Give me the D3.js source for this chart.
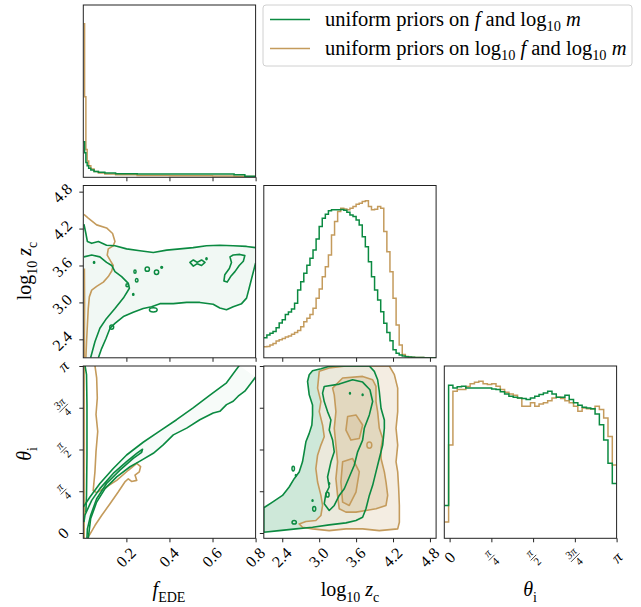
<!DOCTYPE html>
<html>
<head>
<meta charset="utf-8">
<script src="https://cdn.jsdelivr.net/npm/d3@7"></script>
<style>
  body { margin: 0; background: #fff; }
  svg { display: block; }
</style>
</head>
<body>
<svg id="corner" width="641" height="607"></svg>
<script>
// ---- data ----
var fTicks = [0.2, 0.4, 0.6, 0.8];
var zTicks = [2.4, 3.0, 3.6, 4.2, 4.8];
var thTicks = [0, Math.PI / 4, Math.PI / 2, 3 * Math.PI / 4, Math.PI];
var thTickNum = ["0", "π", "π", "3π", "π"];
var thTickDen = ["", "4", "2", "4", ""];

// 1D histogram of f_EDE (bin edges + heights as fraction of panel)
var fEdges = [0, 0.006, 0.012, 0.018, 0.025, 0.035, 0.05, 0.07, 0.1, 0.15, 0.25, 0.4, 0.6, 0.7, 0.75, 0.8];
var fHistGreen = [0.206, 0.143, 0.086, 0.067, 0.053, 0.042, 0.034, 0.029, 0.025, 0.021, 0.019, 0.019, 0.019, 0.015, 0.006];
var fHistTan = [0.891, 0.467, 0.162, 0.095, 0.067, 0.048, 0.034, 0.025, 0.019, 0.015, 0.011, 0.0095, 0.008, 0.006, 0.005];

// 1D histogram of log10 z_c, bins of 0.05 from 2.1
var zHistGreen = [0.116, 0.132, 0.143, 0.153, 0.174, 0.202, 0.221, 0.252, 0.266, 0.283, 0.316, 0.393, 0.442, 0.490, 0.537, 0.578, 0.626, 0.690, 0.762, 0.810, 0.833, 0.853, 0.859, 0.859, 0.859, 0.860, 0.857, 0.845, 0.829, 0.820, 0.800, 0.771, 0.703, 0.645, 0.558, 0.471, 0.393, 0.335, 0.267, 0.200, 0.147, 0.099, 0.047, 0.027, 0.016, 0.010, 0.006, 0.004, 0.003, 0.002, 0.002, 0.002, 0.001, 0.001, 0.001, 0.001];
var zHistTan = [0.064, 0.066, 0.074, 0.083, 0.097, 0.105, 0.112, 0.120, 0.126, 0.136, 0.147, 0.159, 0.180, 0.209, 0.229, 0.252, 0.287, 0.345, 0.399, 0.471, 0.529, 0.597, 0.713, 0.791, 0.849, 0.868, 0.864, 0.859, 0.868, 0.878, 0.891, 0.897, 0.907, 0.911, 0.878, 0.859, 0.862, 0.878, 0.868, 0.733, 0.616, 0.500, 0.345, 0.190, 0.074, 0.019, 0.008, 0.004, 0.003, 0.002, 0.002, 0.002, 0.001, 0.001, 0.001, 0.001];

// 1D histogram of theta_i, 40 bins from -0.1 to pi
var thHistGreen = [0.191, 0.889, 0.873, 0.879, 0.883, 0.873, 0.873, 0.873, 0.873, 0.873, 0.873, 0.867, 0.864, 0.850, 0.838, 0.825, 0.819, 0.815, 0.811, 0.805, 0.815, 0.825, 0.834, 0.844, 0.854, 0.838, 0.819, 0.819, 0.830, 0.805, 0.786, 0.772, 0.760, 0.756, 0.752, 0.721, 0.659, 0.571, 0.435, 0.318];
var thHistTan = [0.094, 0.542, 0.854, 0.864, 0.864, 0.881, 0.897, 0.906, 0.912, 0.897, 0.893, 0.897, 0.883, 0.864, 0.848, 0.838, 0.830, 0.815, 0.766, 0.766, 0.786, 0.766, 0.780, 0.786, 0.799, 0.815, 0.819, 0.811, 0.799, 0.786, 0.766, 0.737, 0.756, 0.752, 0.750, 0.766, 0.747, 0.698, 0.591, 0.425];

// contours, f_EDE vs log10 z_c
var fzGreenOuterTop = [[0.003,4.27],[0.012,4.12],[0.019,3.99],[0.039,3.96],[0.070,3.99],[0.108,3.93],[0.147,3.92],[0.201,3.87],[0.263,3.84],[0.325,3.81],[0.387,3.85],[0.449,3.87],[0.510,3.89],[0.572,3.92],[0.634,3.93],[0.696,3.92],[0.758,3.91],[0.80,3.89]];
var fzGreenOuterLow = [[0.80,3.64],[0.786,3.45],[0.770,3.23],[0.758,3.07],[0.735,2.98],[0.696,2.93],[0.665,2.88],[0.634,2.91],[0.603,2.97],[0.541,3.00],[0.480,3.00],[0.418,2.98],[0.356,2.98],[0.317,2.93],[0.278,2.90],[0.232,2.84],[0.186,2.77],[0.147,2.66],[0.124,2.58],[0.105,2.41],[0.085,2.25],[0.070,2.10]];
var fzGreenInner = [[0.003,3.74],[0.039,3.77],[0.077,3.74],[0.108,3.65],[0.132,3.60],[0.147,3.50],[0.178,3.42],[0.209,3.31],[0.214,3.23],[0.186,3.07],[0.147,2.90],[0.108,2.74],[0.077,2.58],[0.054,2.36],[0.034,2.10]];
var fzGreenIsland = [[0.681,3.74],[0.696,3.77],[0.727,3.78],[0.750,3.76],[0.743,3.67],[0.724,3.60],[0.704,3.50],[0.684,3.42],[0.668,3.33],[0.653,3.35],[0.657,3.45],[0.678,3.55],[0.688,3.65]];
var fzGreenEight = [[0.495,3.65],[0.511,3.69],[0.529,3.65],[0.549,3.69],[0.565,3.65],[0.549,3.60],[0.529,3.63],[0.511,3.59]];
var fzGreenBlobs = [[0.297,3.54,0.010,0.035],[0.340,3.49,0.010,0.035],[0.364,3.57,0.004,0.015],[0.572,3.71,0.003,0.015],[0.204,3.28,0.006,0.025],[0.240,3.50,0.005,0.025],[0.248,3.36,0.006,0.03],[0.232,3.13,0.003,0.015],[0.325,2.88,0.018,0.035],[0.132,2.60,0.009,0.035],[0.050,3.65,0.003,0.015]];
var fzTanLine = [[0.003,4.43],[0.023,4.37],[0.062,4.26],[0.108,4.21],[0.136,4.12],[0.147,3.99],[0.139,3.92],[0.116,3.87],[0.111,3.77],[0.127,3.67],[0.139,3.60],[0.132,3.51],[0.116,3.42],[0.093,3.33],[0.062,3.26],[0.039,3.20],[0.028,3.09],[0.023,2.90],[0.019,2.63],[0.015,2.36],[0.012,2.10]];
var fzTanEdge = [[0.005,3.55],[0.006,3.0],[0.005,2.5],[0.005,2.1]];

// contours, f_EDE vs theta_i
var fthGreenUpper = [[0,0.488],[0.031,0.677],[0.077,0.930],[0.139,1.214],[0.201,1.467],[0.278,1.707],[0.356,1.922],[0.433,2.131],[0.510,2.352],[0.588,2.592],[0.665,2.826],[0.724,3.15]];
var fthGreenLower = [[0.80,2.933],[0.774,2.794],[0.750,2.668],[0.719,2.573],[0.696,2.478],[0.665,2.415],[0.634,2.289],[0.603,2.257],[0.541,2.131],[0.480,1.973],[0.418,1.846],[0.371,1.657],[0.325,1.499],[0.263,1.353],[0.217,1.246],[0.155,1.056],[0.101,0.835],[0.062,0.582],[0.034,0.266],[0.023,-0.1]];
var fthGreenInner = [[0.003,0.203],[0.008,0.342],[0.039,0.614],[0.077,0.835],[0.139,1.120],[0.201,1.341],[0.248,1.499],[0.275,1.575],[0.271,1.518],[0.232,1.404],[0.170,1.183],[0.108,0.930],[0.062,0.645],[0.034,0.330],[0.019,0.077],[0.017,-0.1]];
var fthGreenEdge = [[0.008,3.15],[0.015,2.98],[0.017,2.41],[0.017,1.47],[0.015,0.71],[0.012,0.39]];
var fthTanLine = [[0.054,3.15],[0.062,2.92],[0.065,2.54],[0.059,2.23],[0.067,1.91],[0.059,1.53],[0.054,1.15],[0.046,0.80],[0.062,0.76],[0.108,0.87],[0.155,0.99],[0.209,1.18],[0.248,1.31],[0.266,1.25],[0.260,1.15],[0.240,1.09],[0.248,0.99],[0.224,0.97],[0.209,1.02],[0.193,0.96],[0.162,0.77],[0.124,0.55],[0.085,0.33],[0.054,0.14],[0.031,-0.02],[0.019,-0.1]];
var fthTanEdge = [[0.004,3.15],[0.005,1.5],[0.004,-0.1]];

// contours, log10 z_c vs theta_i
var zthGreenOuter = [[2.100,0.474],[2.241,0.581],[2.404,0.707],[2.512,0.865],[2.594,1.022],[2.675,1.149],[2.729,1.338],[2.757,1.527],[2.784,1.716],[2.838,1.874],[2.881,2.032],[2.892,2.221],[2.892,2.410],[2.838,2.599],[2.811,2.851],[2.838,2.978],[2.892,3.053],[3.028,3.091],[3.163,3.135],[3.272,3.142],[3.815,3.142],[3.896,3.041],[3.950,2.883],[3.977,2.662],[4.005,2.347],[4.059,2.126],[4.059,1.969],[4.032,1.653],[3.977,1.401],[3.923,1.149],[3.869,0.896],[3.815,0.707],[3.760,0.455],[3.706,0.297],[3.598,0.234],[3.435,0.190],[3.163,0.152],[2.892,0.108],[2.621,0.077],[2.350,0.045],[2.100,0.014]];
var zthGreenInner = [[3.082,2.757],[3.326,2.801],[3.543,2.883],[3.706,2.839],[3.825,2.694],[3.869,2.473],[3.815,2.221],[3.733,1.969],[3.706,1.748],[3.625,1.527],[3.570,1.275],[3.489,1.054],[3.408,0.833],[3.326,0.707],[3.245,0.518],[3.163,0.423],[3.082,0.549],[3.109,0.739],[3.163,0.865],[3.136,1.054],[3.191,1.338],[3.245,1.527],[3.218,1.748],[3.163,1.937],[3.191,2.126],[3.136,2.284],[3.082,2.473],[3.055,2.631]];
var zthGreenBlobs = [[2.594,0.202,0.035,0.035],[2.892,0.612,0.008,0.015],[2.919,0.455,0.025,0.045],[3.136,0.72,0.025,0.045],[3.163,0.93,0.008,0.015],[2.578,1.212,0.02,0.045],[2.621,1.086,0.008,0.015],[3.500,2.63,0.008,0.015],[3.706,2.60,0.008,0.015]];
var zthTanOuter = [[2.974,2.725],[3.001,3.041],[3.163,3.104],[3.435,3.142],[3.869,3.142],[4.140,3.142],[4.222,2.978],[4.276,2.725],[4.276,2.284],[4.249,1.969],[4.276,1.653],[4.249,1.338],[4.276,1.149],[4.292,0.833],[4.303,0.518],[4.303,0.203],[4.276,0.077],[3.977,0.045],[3.706,0.077],[3.435,0.077],[3.163,0.045],[2.892,0.077],[2.729,0.108],[2.675,0.171],[2.784,0.215],[2.946,0.234],[3.028,0.329],[3.055,0.518],[3.028,0.707],[2.974,0.959],[2.946,1.212],[2.974,1.464],[3.028,1.653],[3.082,1.811],[3.055,2.032],[3.001,2.284],[3.028,2.473],[3.001,2.599]];
var zthTanInner = [[3.218,2.725],[3.381,2.915],[3.706,2.946],[3.869,2.883],[3.923,2.757],[3.923,2.473],[3.950,2.284],[3.977,1.969],[4.032,1.779],[4.005,1.590],[4.005,1.401],[4.059,1.149],[4.086,0.959],[4.113,0.707],[4.086,0.518],[3.923,0.455],[3.760,0.423],[3.598,0.392],[3.435,0.392],[3.326,0.455],[3.299,0.707],[3.272,1.022],[3.299,1.338],[3.272,1.653],[3.245,1.969],[3.272,2.284],[3.245,2.599]];
var zthTanCore1 = [[3.462,2.190],[3.598,2.221],[3.706,2.032],[3.652,1.779],[3.516,1.748],[3.435,1.937]];
var zthTanCore2 = [[3.381,1.338],[3.543,1.401],[3.652,1.149],[3.598,0.770],[3.489,0.518],[3.381,0.581],[3.353,0.959]];
var zthTanBlobs = [[3.815,1.653,0.04,0.06]];

// ---- layout ----
var green = "#0b8a41", tan = "#c49b5c";
var serif = "'Liberation Serif', 'DejaVu Serif', serif";
var S = 172.3;
var colX = [83.3, 263.8, 444.3];
var rowY = [5, 185.5, 366];

var svg = d3.select("#corner");

var fX = d3.scaleLinear().domain([0, 0.8]).range([0, S]);
var zX = d3.scaleLinear().domain([2.1, 4.9]).range([0, S]);
var zY = d3.scaleLinear().domain([2.1, 4.9]).range([S, 0]);
var thX = d3.scaleLinear().domain([-0.1, Math.PI]).range([0, S]);
var thY = d3.scaleLinear().domain([-0.1, Math.PI]).range([S, 0]);
var hY = d3.scaleLinear().domain([0, 1]).range([S, 0]);

function panel(col, row) {
  var g = svg.append("g").attr("transform", "translate(" + colX[col] + "," + rowY[row] + ")");
  var id = "clip" + col + row;
  g.append("clipPath").attr("id", id).append("rect").attr("width", S).attr("height", S);
  var inner = g.append("g").attr("clip-path", "url(#" + id + ")");
  return { g: g, inner: inner };
}

function frame(p) {
  p.g.append("rect").attr("width", S).attr("height", S)
    .attr("fill", "none").attr("stroke", "#222").attr("stroke-width", 1);
}

function stroke(g, pts, sx, sy, color, closed) {
  var line = d3.line().x(function (d) { return sx(d[0]); }).y(function (d) { return sy(d[1]); });
  g.append("path").attr("d", line(pts) + (closed ? "Z" : ""))
    .attr("fill", "none").attr("stroke", color).attr("stroke-width", 1.6)
    .attr("stroke-linejoin", "round");
}

function fill(g, pts, sx, sy, color, op) {
  var line = d3.line().x(function (d) { return sx(d[0]); }).y(function (d) { return sy(d[1]); });
  g.append("path").attr("d", line(pts) + "Z").attr("fill", color).attr("fill-opacity", op).attr("stroke", "none");
}

function blobs(g, list, sx, sy, color) {
  list.forEach(function (b) {
    g.append("ellipse")
      .attr("cx", sx(b[0])).attr("cy", sy(b[1]))
      .attr("rx", Math.abs(sx(b[0] + b[2]) - sx(b[0])))
      .attr("ry", Math.abs(sy(b[1] + b[3]) - sy(b[1])))
      .attr("fill", "none").attr("stroke", color).attr("stroke-width", 1.5);
  });
}

function hist(g, edges, vals, sx, color) {
  var pts = vals.map(function (v, i) { return [edges[i], v]; });
  pts.push([edges[vals.length], vals[vals.length - 1]]);
  var line = d3.line().curve(d3.curveStepAfter)
    .x(function (d) { return sx(d[0]); }).y(function (d) { return hY(d[1]); });
  g.append("path").attr("d", line(pts)).attr("fill", "none")
    .attr("stroke", color).attr("stroke-width", 1.5);
}

function uniformEdges(start, stop, n) {
  return d3.range(n + 1).map(function (i) { return start + (stop - start) * i / n; });
}

function xAxis(p, scale, ticks, withLabels) {
  var ax = p.g.append("g").attr("transform", "translate(0," + S + ")")
    .call(d3.axisBottom(scale).tickValues(ticks).tickSize(4).tickFormat(withLabels ? d3.format(".1f") : ""));
  ax.select(".domain").remove();
  ax.selectAll("line").attr("stroke", "#222");
  ax.attr("font-family", serif).attr("font-size", 16);
  if (withLabels) {
    ax.selectAll("text").attr("y", 0).attr("dy", null).attr("fill", "#000")
      .attr("text-anchor", "middle").attr("dominant-baseline", "central")
      .attr("transform", "translate(-1,19) rotate(-45)");
  }
  return ax;
}

function yAxis(p, scale, ticks, withLabels) {
  var ax = p.g.append("g")
    .call(d3.axisLeft(scale).tickValues(ticks).tickSize(4).tickFormat(withLabels ? d3.format(".1f") : ""));
  ax.select(".domain").remove();
  ax.selectAll("line").attr("stroke", "#222");
  ax.attr("font-family", serif).attr("font-size", 16);
  if (withLabels) {
    ax.selectAll("text").attr("x", 0).attr("dy", null).attr("fill", "#000")
      .attr("text-anchor", "middle").attr("dominant-baseline", "central")
      .attr("transform", "translate(-21,1) rotate(-45)");
  }
  return ax;
}

// pi-fraction tick labels
function thetaLabels(p, horizontal) {
  thTicks.forEach(function (t, i) {
    var tx = horizontal ? "translate(" + thX(t) + "," + (S + 19) + ")" : "translate(-20," + thY(t) + ")";
    var lg = p.g.append("g").attr("transform", tx + " rotate(-45)").attr("font-family", serif);
    var num = thTickNum[i], den = thTickDen[i];
    if (den === "") {
      lg.append("text").text(num).attr("text-anchor", "middle").attr("dominant-baseline", "central")
        .attr("font-size", 16).attr("fill", "#000").attr("font-style", num === "π" ? "italic" : null);
    } else {
      var hw = num.length > 1 ? 6 : 4;
      lg.append("text").text(num).attr("text-anchor", "middle").attr("y", -2)
        .attr("font-size", 11).attr("fill", "#000").attr("font-style", "italic");
      lg.append("line").attr("x1", -hw).attr("x2", hw).attr("y1", 0.5).attr("y2", 0.5)
        .attr("stroke", "#000").attr("stroke-width", 0.7);
      lg.append("text").text(den).attr("text-anchor", "middle").attr("y", 9.5)
        .attr("font-size", 11).attr("fill", "#000");
    }
  });
}

function richText(sel, parts, size) {
  var t = sel.append("text").attr("font-size", size).attr("font-family", serif).attr("fill", "#000");
  var shift = 0;
  parts.forEach(function (p) {
    var sub = p[1].indexOf("s") >= 0;
    var target = sub ? size * 0.28 : 0;
    var ts = t.append("tspan").text(p[0]).attr("dy", target - shift);
    shift = target;
    if (sub) ts.attr("font-size", size * 0.7);
    if (p[1].indexOf("i") >= 0) ts.attr("font-style", "italic");
  });
  return t;
}

// ---- panel (0,0): f_EDE histogram ----
var p00 = panel(0, 0);
hist(p00.inner, fEdges, fHistTan, fX, tan);
hist(p00.inner, fEdges, fHistGreen, fX, green);
xAxis(p00, fX, fTicks, false);
frame(p00);

// ---- panel (1,0): f_EDE vs log10 z_c ----
var p10 = panel(0, 1);
fill(p10.inner, fzGreenOuterTop.concat(fzGreenOuterLow).concat([[0, 2.1], [0, 4.27]]), fX, zY, green, 0.06);
stroke(p10.inner, fzTanEdge, fX, zY, tan, false);
stroke(p10.inner, fzTanLine, fX, zY, tan, false);
stroke(p10.inner, fzGreenOuterTop, fX, zY, green, false);
stroke(p10.inner, fzGreenOuterLow, fX, zY, green, false);
stroke(p10.inner, fzGreenInner, fX, zY, green, false);
stroke(p10.inner, fzGreenIsland, fX, zY, green, true);
stroke(p10.inner, fzGreenEight, fX, zY, green, true);
blobs(p10.inner, fzGreenBlobs, fX, zY, green);
xAxis(p10, fX, fTicks, false);
yAxis(p10, zY, zTicks, true);
frame(p10);

// ---- panel (1,1): log10 z_c histogram ----
var p11 = panel(1, 1);
var zEdges = uniformEdges(2.1, 4.9, zHistGreen.length);
hist(p11.inner, zEdges, zHistTan, zX, tan);
hist(p11.inner, zEdges, zHistGreen, zX, green);
xAxis(p11, zX, zTicks, false);
frame(p11);

// ---- panel (2,0): f_EDE vs theta_i ----
var p20 = panel(0, 2);
fill(p20.inner, fthGreenUpper.concat(fthGreenLower), fX, thY, green, 0.03);
stroke(p20.inner, fthTanEdge, fX, thY, tan, false);
stroke(p20.inner, fthTanLine, fX, thY, tan, false);
stroke(p20.inner, fthGreenEdge, fX, thY, green, false);
stroke(p20.inner, fthGreenUpper, fX, thY, green, false);
stroke(p20.inner, fthGreenLower, fX, thY, green, false);
stroke(p20.inner, fthGreenInner, fX, thY, green, false);
xAxis(p20, fX, fTicks, true);
yAxis(p20, thY, thTicks, false);
thetaLabels(p20, false);
frame(p20);

// ---- panel (2,1): log10 z_c vs theta_i ----
var p21 = panel(1, 2);
fill(p21.inner, zthGreenOuter, zX, thY, green, 0.2);
fill(p21.inner, zthTanOuter, zX, thY, "#fff", 0.8);
fill(p21.inner, zthTanOuter, zX, thY, tan, 0.18);
fill(p21.inner, zthTanInner, zX, thY, tan, 0.22);
fill(p21.inner, zthTanCore1, zX, thY, tan, 0.15);
fill(p21.inner, zthTanCore2, zX, thY, tan, 0.15);
stroke(p21.inner, zthTanOuter, zX, thY, tan, true);
stroke(p21.inner, zthTanInner, zX, thY, tan, true);
stroke(p21.inner, zthTanCore1, zX, thY, tan, true);
stroke(p21.inner, zthTanCore2, zX, thY, tan, true);
blobs(p21.inner, zthTanBlobs, zX, thY, tan);
stroke(p21.inner, zthGreenOuter, zX, thY, green, true);
stroke(p21.inner, zthGreenInner, zX, thY, green, true);
blobs(p21.inner, zthGreenBlobs, zX, thY, green);
xAxis(p21, zX, zTicks, true);
yAxis(p21, thY, thTicks, false);
frame(p21);

// ---- panel (2,2): theta_i histogram ----
var p22 = panel(2, 2);
var thEdges = uniformEdges(-0.1, Math.PI, thHistGreen.length);
hist(p22.inner, thEdges, thHistTan, thX, tan);
hist(p22.inner, thEdges, thHistGreen, thX, green);
xAxis(p22, thX, thTicks, false);
thetaLabels(p22, true);
frame(p22);

// ---- axis titles ----
var zLabel = [["log", "r"], ["10", "s"], ["\u00a0", "r"], ["z", "i"], ["c", "s"]];
var thLabel = [["θ", "i"], ["i", "s"]];
richText(svg.append("g").attr("transform", "translate(31,271) rotate(-90)"), zLabel, 20).attr("text-anchor", "middle");
richText(svg.append("g").attr("transform", "translate(31,454) rotate(-90)"), thLabel, 20).attr("text-anchor", "middle");
richText(svg.append("g").attr("transform", "translate(169,596)"), [["f", "i"], ["EDE", "s"]], 20).attr("text-anchor", "middle");
richText(svg.append("g").attr("transform", "translate(350,596)"), zLabel, 20).attr("text-anchor", "middle");
richText(svg.append("g").attr("transform", "translate(530,596)"), thLabel, 20).attr("text-anchor", "middle");

// ---- legend ----
var legend = svg.append("g");
legend.append("rect").attr("x", 263).attr("y", 5).attr("width", 369).attr("height", 61)
  .attr("rx", 3).attr("fill", "#fff").attr("fill-opacity", 0.8)
  .attr("stroke", "#d0d0d0").attr("stroke-width", 1);
var legendColors = [green, tan];
var legendParts = [
  [["uniform priors on ", "r"], ["f", "i"], [" and log", "r"], ["10", "s"], ["\u00a0", "r"], ["m", "i"]],
  [["uniform priors on log", "r"], ["10", "s"], ["\u00a0", "r"], ["f", "i"], [" and log", "r"], ["10", "s"], ["\u00a0", "r"], ["m", "i"]]
];
legendColors.forEach(function (c, i) {
  var ly = 19.5 + i * 29;
  legend.append("line").attr("x1", 270).attr("x2", 310).attr("y1", ly).attr("y2", ly)
    .attr("stroke", c).attr("stroke-width", 1.6);
  richText(legend.append("g").attr("transform", "translate(325," + (ly + 6) + ")"), legendParts[i], 20.5);
});
</script>
</body>
</html>
